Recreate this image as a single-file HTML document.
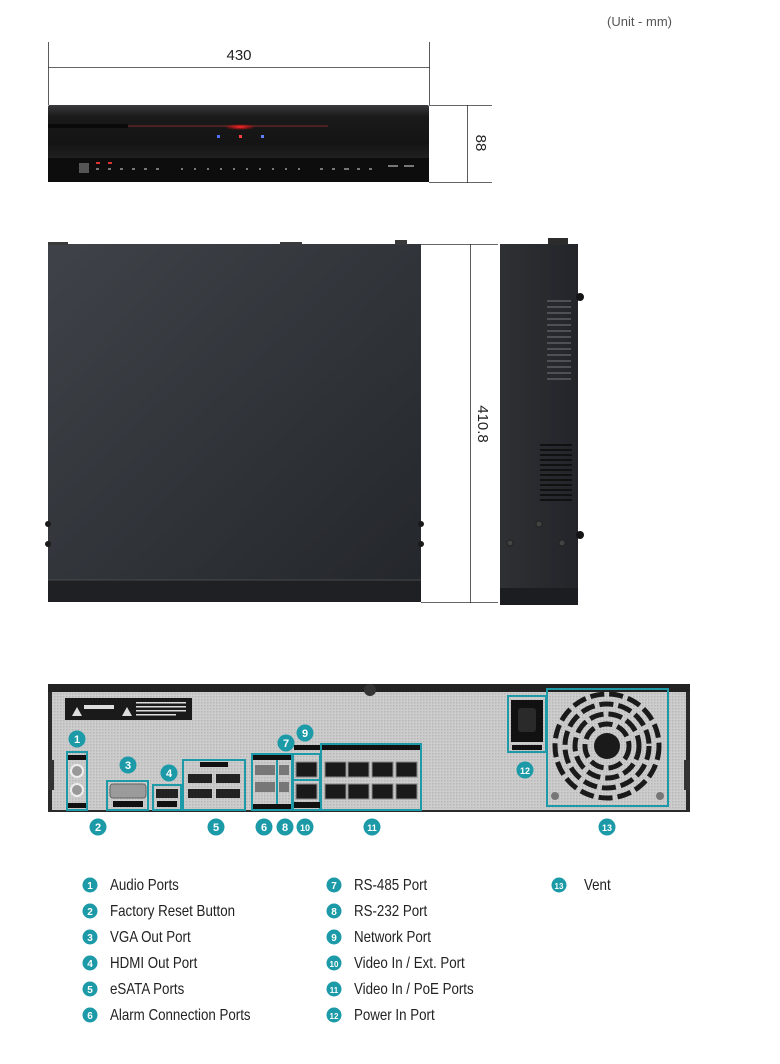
<!DOCTYPE html>
<html><head><meta charset="utf-8"><style>
html,body{margin:0;padding:0;background:#fff;width:780px;height:1064px;overflow:hidden}
svg{display:block}
text{font-family:"Liberation Sans",sans-serif}
.nb{font-family:"Liberation Sans",sans-serif;font-size:11px;font-weight:bold;fill:#fff;text-anchor:middle}
</style></head><body>
<svg width="780" height="1064" viewBox="0 0 780 1064" xmlns="http://www.w3.org/2000/svg">
<defs>
<linearGradient id="front" x1="0" y1="0" x2="0" y2="1">
<stop offset="0" stop-color="#3a3a3c"/><stop offset="0.15" stop-color="#1a1a1b"/><stop offset="0.5" stop-color="#141414"/><stop offset="0.72" stop-color="#222"/><stop offset="1" stop-color="#0c0c0c"/></linearGradient>
<linearGradient id="top" x1="0" y1="0" x2="1" y2="1">
<stop offset="0" stop-color="#3f4349"/><stop offset="1" stop-color="#23262a"/></linearGradient>
<linearGradient id="side" x1="0" y1="0" x2="1" y2="0">
<stop offset="0" stop-color="#2e3034"/><stop offset="1" stop-color="#23252a"/></linearGradient>
<radialGradient id="red" cx="0.5" cy="0.5" r="0.5"><stop offset="0" stop-color="#ff3030"/><stop offset="1" stop-color="#ff0000" stop-opacity="0"/></radialGradient>
<pattern id="dots" width="3" height="3" patternUnits="userSpaceOnUse"><rect width="3" height="3" fill="#cdcdcd"/><rect width="1.5" height="1.5" fill="#b6b6b6"/></pattern>
</defs>

<text x="672" y="26" font-size="13" fill="#555" text-anchor="end">(Unit - mm)</text>

<g stroke="#333" stroke-width="0.8" fill="none">
<line x1="48.5" y1="42" x2="48.5" y2="105"/><line x1="429.5" y1="42" x2="429.5" y2="105"/>
<line x1="48" y1="67.5" x2="430" y2="67.5"/>
<line x1="429" y1="105.5" x2="492" y2="105.5"/><line x1="429" y1="182.5" x2="492" y2="182.5"/>
<line x1="467.5" y1="105" x2="467.5" y2="183"/>
<line x1="421" y1="244.5" x2="498" y2="244.5"/><line x1="421" y1="602.5" x2="498" y2="602.5"/>
<line x1="470.5" y1="244" x2="470.5" y2="603"/>
</g>
<text x="239" y="60" font-size="15" fill="#222" text-anchor="middle">430</text>
<text transform="translate(476,143) rotate(90)" font-size="15" fill="#222" text-anchor="middle">88</text>
<text transform="translate(478,424) rotate(90)" font-size="15" fill="#222" text-anchor="middle">410.8</text>

<rect x="48" y="105" width="381" height="77" rx="2" fill="url(#front)"/>
<rect x="48" y="124" width="80" height="4" fill="#0a0a0a"/>
<rect x="128" y="125" width="200" height="2" fill="#4a2222"/>
<ellipse cx="240" cy="127" rx="16" ry="3" fill="url(#red)"/>
<rect x="217" y="135" width="3" height="3" fill="#5070ff"/><rect x="239" y="135" width="3" height="3" fill="#ff4040"/><rect x="261" y="135" width="3" height="3" fill="#6080ff"/>
<rect x="48" y="158" width="381" height="24" fill="#0d0d0d"/>
<rect x="79" y="163" width="10" height="10" fill="#555"/>
<g fill="#777">
<rect x="96" y="168" width="3" height="2"/><rect x="108" y="168" width="3" height="2"/><rect x="120" y="168" width="3" height="2"/><rect x="132" y="168" width="3" height="2"/><rect x="144" y="168" width="3" height="2"/><rect x="156" y="168" width="3" height="2"/>
<rect x="181" y="168" width="2" height="2"/><rect x="194" y="168" width="2" height="2"/><rect x="207" y="168" width="2" height="2"/><rect x="220" y="168" width="2" height="2"/><rect x="233" y="168" width="2" height="2"/><rect x="246" y="168" width="2" height="2"/><rect x="259" y="168" width="2" height="2"/><rect x="272" y="168" width="2" height="2"/><rect x="285" y="168" width="2" height="2"/><rect x="298" y="168" width="2" height="2"/>
<rect x="320" y="168" width="3" height="2"/><rect x="332" y="168" width="3" height="2"/><rect x="344" y="168" width="5" height="2"/><rect x="357" y="168" width="3" height="2"/><rect x="369" y="168" width="3" height="2"/>
<rect x="388" y="165" width="10" height="2"/><rect x="404" y="165" width="10" height="2"/>
</g>
<rect x="96" y="162" width="4" height="2" fill="#d33"/><rect x="108" y="162" width="4" height="2" fill="#d33"/>

<rect x="48" y="244" width="373" height="358" fill="url(#top)"/>
<rect x="48" y="580" width="373" height="22" fill="#1e2024"/>
<line x1="48" y1="580" x2="421" y2="580" stroke="#555" stroke-width="0.8"/>
<rect x="48" y="242" width="20" height="3" fill="#3a3a3a"/><rect x="280" y="242" width="22" height="3" fill="#3a3a3a"/><rect x="395" y="240" width="12" height="5" fill="#3a3a3a"/>
<g fill="#1a1a1a"><circle cx="48" cy="524" r="3"/><circle cx="48" cy="544" r="3"/><circle cx="421" cy="524" r="3"/><circle cx="421" cy="544" r="3"/></g>

<rect x="500" y="244" width="78" height="361" fill="url(#side)"/>
<rect x="548" y="238" width="20" height="7" fill="#2c2c2c"/>
<circle cx="580" cy="297" r="4" fill="#151515"/><circle cx="580" cy="535" r="4" fill="#151515"/>
<g fill="#4d5055">
<rect x="547" y="300" width="24" height="2"/><rect x="547" y="306" width="24" height="2"/><rect x="547" y="312" width="24" height="2"/><rect x="547" y="318" width="24" height="2"/><rect x="547" y="324" width="24" height="2"/><rect x="547" y="330" width="24" height="2"/><rect x="547" y="336" width="24" height="2"/><rect x="547" y="342" width="24" height="2"/><rect x="547" y="348" width="24" height="2"/><rect x="547" y="354" width="24" height="2"/><rect x="547" y="360" width="24" height="2"/><rect x="547" y="366" width="24" height="2"/><rect x="547" y="372" width="24" height="2"/><rect x="547" y="378" width="24" height="2"/>
</g>
<g fill="#111">
<rect x="540" y="444" width="32" height="2"/><rect x="540" y="449" width="32" height="2"/><rect x="540" y="454" width="32" height="2"/><rect x="540" y="459" width="32" height="2"/><rect x="540" y="464" width="32" height="2"/><rect x="540" y="469" width="32" height="2"/><rect x="540" y="474" width="32" height="2"/><rect x="540" y="479" width="32" height="2"/><rect x="540" y="484" width="32" height="2"/><rect x="540" y="489" width="32" height="2"/><rect x="540" y="494" width="32" height="2"/><rect x="540" y="499" width="32" height="2"/>
</g>
<g fill="#444" stroke="#222"><circle cx="539" cy="524" r="3"/><circle cx="510" cy="543" r="3"/><circle cx="562" cy="543" r="3"/></g>
<rect x="500" y="588" width="78" height="17" fill="#1c1d20"/>

<rect x="48" y="684" width="642" height="128" fill="#2a2a2a"/>
<rect x="52" y="692" width="634" height="118" fill="url(#dots)"/>
<rect x="48" y="684" width="642" height="8" fill="#222"/>
<circle cx="370" cy="690" r="6" fill="#333"/>
<rect x="48" y="760" width="6" height="30" fill="#333"/><rect x="684" y="760" width="6" height="30" fill="#333"/>
<rect x="65" y="698" width="127" height="22" fill="#1a1a1a"/>
<g fill="#ddd"><path d="M72 716 L77 707 L82 716Z"/><path d="M122 716 L127 707 L132 716Z"/><rect x="84" y="705" width="30" height="4"/><rect x="136" y="702" width="50" height="1.5"/><rect x="136" y="706" width="50" height="1.5"/><rect x="136" y="710" width="50" height="1.5"/><rect x="136" y="714" width="40" height="1.5"/></g>

<g fill="none" stroke="#1c9aa8" stroke-width="2">
<rect x="67" y="752" width="20" height="58"/>
<rect x="107" y="781" width="41" height="29"/>
<rect x="153" y="785" width="28" height="25"/>
<rect x="183" y="760" width="62" height="50"/>
<rect x="252" y="754" width="25" height="56"/>
<rect x="277" y="754" width="15" height="56"/>
<rect x="293" y="754" width="27" height="26"/>
<rect x="293" y="780" width="27" height="30"/>
<rect x="321" y="744" width="100" height="66"/>
<rect x="508" y="696" width="38" height="56"/>
<rect x="547" y="689" width="121" height="117"/>
</g>
<g fill="#999" stroke="#eee" stroke-width="2"><circle cx="77" cy="771" r="6"/><circle cx="77" cy="790" r="6"/></g>
<rect x="68" y="755" width="18" height="5" fill="#111"/><rect x="68" y="803" width="18" height="5" fill="#111"/>
<rect x="110" y="784" width="36" height="14" rx="3" fill="#9b9b9b" stroke="#666"/><rect x="113" y="801" width="30" height="6" fill="#111"/>
<rect x="156" y="789" width="22" height="9" fill="#222"/><rect x="157" y="801" width="20" height="6" fill="#111"/>
<g fill="#222"><rect x="188" y="774" width="24" height="9"/><rect x="216" y="774" width="24" height="9"/><rect x="188" y="789" width="24" height="9"/><rect x="216" y="789" width="24" height="9"/></g>
<rect x="200" y="762" width="28" height="5" fill="#111"/>
<rect x="253" y="755" width="38" height="5" fill="#111"/><rect x="253" y="804" width="38" height="5" fill="#111"/>
<g fill="#777"><rect x="255" y="765" width="20" height="10"/><rect x="255" y="782" width="20" height="10"/><rect x="279" y="765" width="10" height="10"/><rect x="279" y="782" width="10" height="10"/></g>
<rect x="294" y="745" width="26" height="5" fill="#111"/><rect x="322" y="745" width="98" height="5" fill="#111"/>
<g fill="#1a1a1a" stroke="#888" stroke-width="1">
<rect x="296" y="762" width="21" height="15"/><rect x="296" y="784" width="21" height="15"/>
<rect x="325" y="762" width="21" height="15"/><rect x="348" y="762" width="21" height="15"/><rect x="372" y="762" width="21" height="15"/><rect x="396" y="762" width="21" height="15"/>
<rect x="325" y="784" width="21" height="15"/><rect x="348" y="784" width="21" height="15"/><rect x="372" y="784" width="21" height="15"/><rect x="396" y="784" width="21" height="15"/>
</g>
<rect x="294" y="802" width="26" height="6" fill="#111"/>
<rect x="511" y="700" width="32" height="42" fill="#111"/>
<rect x="518" y="708" width="18" height="24" rx="3" fill="#2a2a2a"/>
<rect x="512" y="745" width="30" height="5" fill="#111"/>
<g fill="none" stroke="#1a1a1a" stroke-width="5" stroke-dasharray="14 5">
<circle cx="607" cy="746" r="52"/><circle cx="607" cy="746" r="42"/><circle cx="607" cy="746" r="32"/><circle cx="607" cy="746" r="22"/>
</g>
<circle cx="607" cy="746" r="13" fill="#1a1a1a"/>
<circle cx="555" cy="796" r="4" fill="#777"/><circle cx="660" cy="796" r="4" fill="#777"/>

<g fill="#1c9aa8">
<circle cx="77" cy="739" r="8.5"/><circle cx="98" cy="827" r="8.5"/><circle cx="128" cy="765" r="8.5"/><circle cx="169" cy="773" r="8.5"/><circle cx="216" cy="827" r="8.5"/>
<circle cx="264" cy="827" r="8.5"/><circle cx="286" cy="743" r="8.5"/><circle cx="285" cy="827" r="8.5"/><circle cx="305" cy="733" r="8.5"/><circle cx="305" cy="827" r="8.5"/><circle cx="372" cy="827" r="8.5"/><circle cx="525" cy="770" r="8.5"/><circle cx="607" cy="827" r="8.5"/>
</g>
<g class="nb">
<text x="77" y="743">1</text><text x="98" y="831">2</text><text x="128" y="769">3</text><text x="169" y="777">4</text><text x="216" y="831">5</text>
<text x="264" y="831">6</text><text x="286" y="747">7</text><text x="285" y="831">8</text><text x="305" y="737">9</text><text x="305" y="831" font-size="9">10</text><text x="372" y="831" font-size="9">11</text><text x="525" y="774" font-size="9">12</text><text x="607" y="831" font-size="9">13</text>
</g>

<g fill="#1c9aa8">
<circle cx="90" cy="885" r="7.5"/><circle cx="90" cy="911" r="7.5"/><circle cx="90" cy="937" r="7.5"/><circle cx="90" cy="963" r="7.5"/><circle cx="90" cy="989" r="7.5"/><circle cx="90" cy="1015" r="7.5"/>
<circle cx="334" cy="885" r="7.5"/><circle cx="334" cy="911" r="7.5"/><circle cx="334" cy="937" r="7.5"/><circle cx="334" cy="963" r="7.5"/><circle cx="334" cy="989" r="7.5"/><circle cx="334" cy="1015" r="7.5"/>
<circle cx="559" cy="885" r="7.5"/>
</g>
<g class="nb" style="font-size:10px">
<text x="90" y="889">1</text><text x="90" y="915">2</text><text x="90" y="941">3</text><text x="90" y="967">4</text><text x="90" y="993">5</text><text x="90" y="1019">6</text>
<text x="334" y="889">7</text><text x="334" y="915">8</text><text x="334" y="941">9</text><text x="334" y="967" font-size="8">10</text><text x="334" y="993" font-size="8">11</text><text x="334" y="1019" font-size="8">12</text>
<text x="559" y="889" font-size="8">13</text>
</g>
<g font-size="15.5" fill="#222" transform="translate(110,0) scale(0.86,1)">
<text x="0" y="890">Audio Ports</text><text x="0" y="916">Factory Reset Button</text><text x="0" y="942">VGA Out Port</text><text x="0" y="968">HDMI Out Port</text><text x="0" y="994">eSATA Ports</text><text x="0" y="1020">Alarm Connection Ports</text>
</g>
<g font-size="15.5" fill="#222" transform="translate(354,0) scale(0.86,1)">
<text x="0" y="890">RS-485 Port</text><text x="0" y="916">RS-232 Port</text><text x="0" y="942">Network Port</text><text x="0" y="968">Video In / Ext. Port</text><text x="0" y="994">Video In / PoE Ports</text><text x="0" y="1020">Power In Port</text>
</g>
<g font-size="15.5" fill="#222" transform="translate(584,0) scale(0.86,1)">
<text x="0" y="890">Vent</text>
</g>
</svg>
</body></html>
